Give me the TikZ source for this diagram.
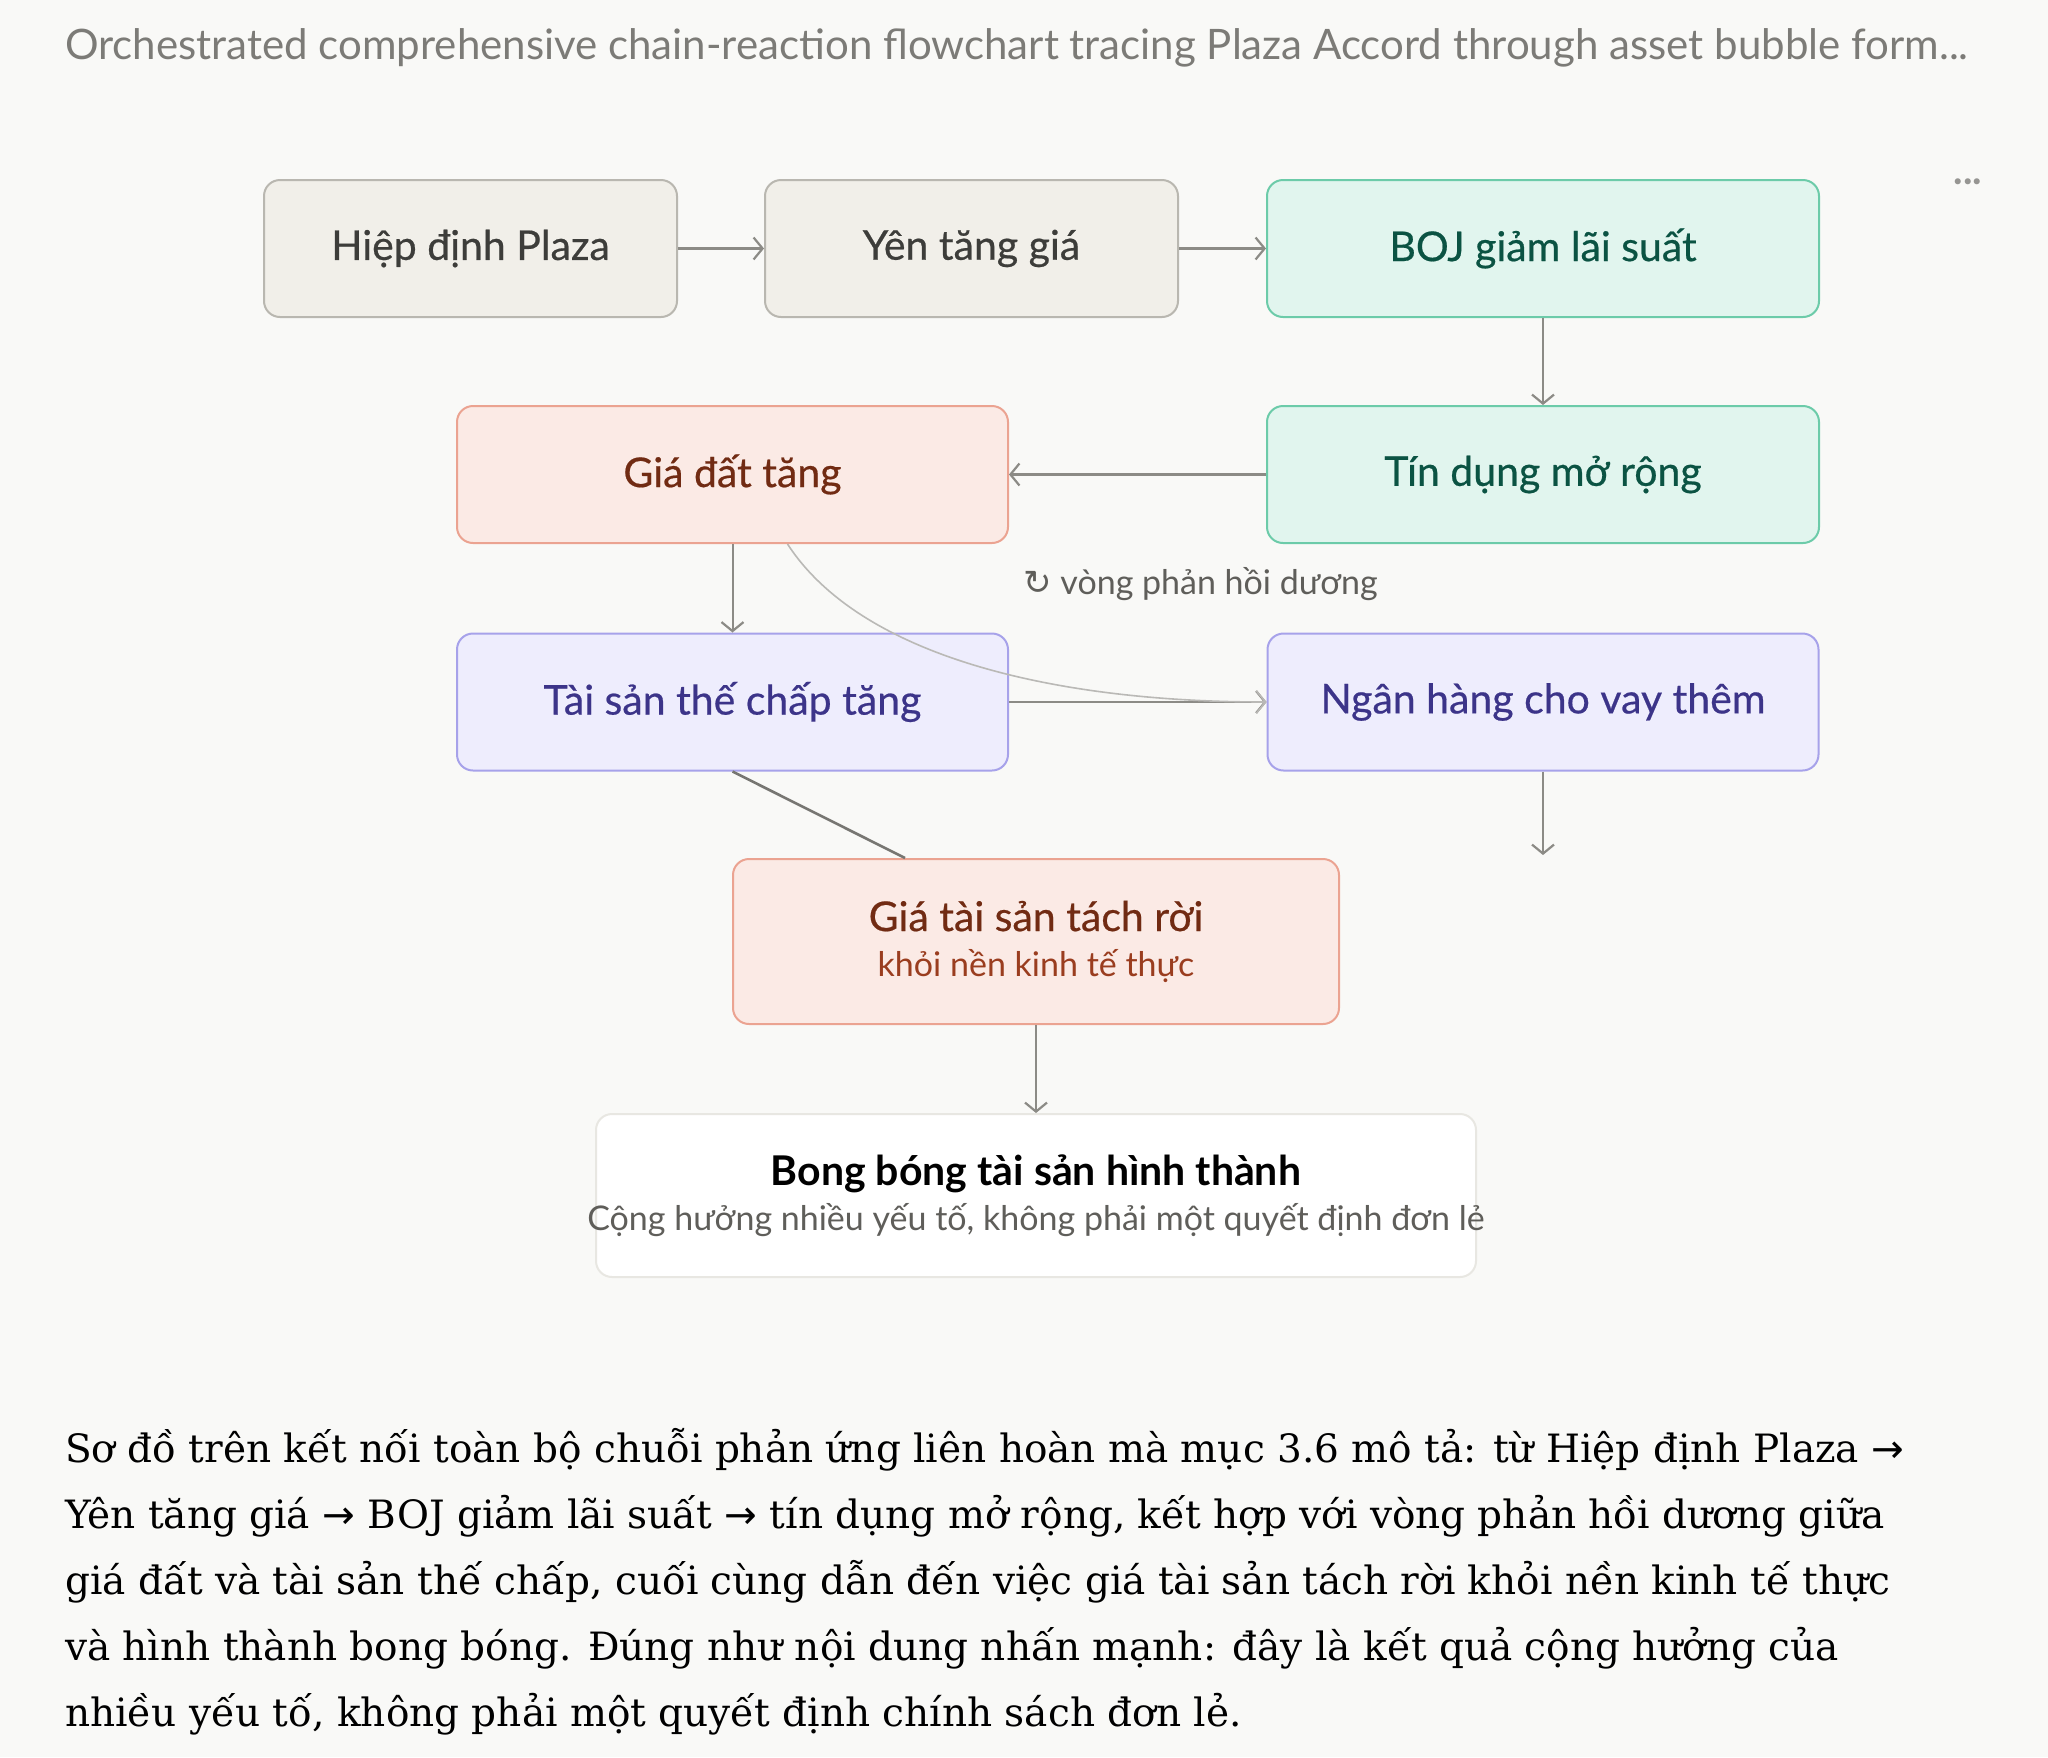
\documentclass[tikz,border=0pt]{standalone}
\usepackage{fontspec}
\setmainfont{Lato}
\newfontfamily\plainfont{Lato}
\newfontfamily\boxfont{Lato}[FakeBold=0.5]
\newfontfamily\bodyserif{DejaVu Serif}
\newfontfamily\symfont{DejaVu Sans}
\usetikzlibrary{arrows.meta,positioning}

\definecolor{pagebg}{HTML}{F9F9F7}
\definecolor{grfill}{HTML}{F1EFE9}
\definecolor{grline}{HTML}{B9B7B0}
\definecolor{grtext}{HTML}{3D3D3A}
\definecolor{gnfill}{HTML}{E1F5EE}
\definecolor{gnline}{HTML}{6CCBA9}
\definecolor{gntext}{HTML}{0B5343}
\definecolor{rdfill}{HTML}{FBEAE5}
\definecolor{rdline}{HTML}{EBA391}
\definecolor{rdtext}{HTML}{712B13}
\definecolor{rdsub}{HTML}{9A3D1F}
\definecolor{pufill}{HTML}{EEEDFD}
\definecolor{puline}{HTML}{A7A2EA}
\definecolor{putext}{HTML}{3C3489}
\definecolor{wtline}{HTML}{E8E7E2}
\definecolor{arrowc}{HTML}{8C8B86}
\definecolor{notec}{HTML}{5F5E5A}
\definecolor{titlec}{HTML}{7C7B77}

\begin{document}
\begin{tikzpicture}[x=1pt,y=-1pt,
 font=\boxfont\fontsize{41}{48}\selectfont,
 box/.style={draw,rounded corners=16pt,line width=2pt,align=center,minimum height=137pt,inner sep=0pt},
 neutral/.style={box,fill=grfill,draw=grline,text=grtext,minimum width=413pt},
 policy/.style={box,fill=gnfill,draw=gnline,text=gntext,minimum width=552pt},
 asset/.style={box,fill=rdfill,draw=rdline,text=rdtext,minimum width=551pt},
 bank/.style={box,fill=pufill,draw=puline,text=putext,minimum width=551pt},
 outcome/.style={box,fill=white,draw=wtline,text=black,minimum width=880pt,minimum height=163pt},
 flow/.style={-{Straight Barb[length=9pt,width=22pt,line width=2.2pt]},line width=2.6pt,draw=arrowc},
 loop/.style={-{Straight Barb[length=9pt,width=22pt,line width=1.6pt]},line width=1.6pt,draw=arrowc!60},
 note/.style={font=\plainfont\fontsize{34}{40}\selectfont,text=notec,inner sep=0pt},
 para/.style={font=\bodyserif\fontsize{39}{66}\selectfont,text=black,anchor=base west,inner sep=0pt}
]
\useasboundingbox (0,0) rectangle (2048,1757);
\fill[pagebg] (0,0) rectangle (2048,1757);

\node[font=\plainfont\fontsize{42}{48}\selectfont,text=titlec,anchor=west,inner sep=0pt] (title) at (65,48) {Orchestrated comprehensive chain-reaction flowchart tracing Plaza Accord through asset bubble form...};
\node[font=\plainfont\fontsize{40}{40}\selectfont\bfseries,text=titlec!80] (more) at (1968,182) {...};

% chain
\node[neutral] (plaza) at (470.5,248.5) {Hiệp định Plaza};
\node[neutral] (yen) at (971.5,248.5) {Yên tăng giá};
\node[policy] (boj) at (1543,248.5) {BOJ giảm lãi suất};
\node[policy] (credit) at (1543,474.5) {Tín dụng mở rộng};
\node[asset] (land) at (732.5,474.5) {Giá đất tăng};
\node[bank] (collat) at (732.5,702) {Tài sản thế chấp tăng};
\node[bank] (lend) at (1543,702) {Ngân hàng cho vay thêm};
\node[asset,minimum width=606pt,minimum height=165pt] (detach) at (1036,941.5) {Giá tài sản tách rời\\[-3pt]{\color{rdsub}\plainfont\fontsize{34}{38}\selectfont khỏi nền kinh tế thực}};
\node[outcome] (bubble) at (1036,1195.5) {{\plainfont\bfseries Bong bóng tài sản hình thành}\\[-3pt]\makebox[820pt][c]{\color{notec}\plainfont\fontsize{34}{38}\selectfont Cộng hưởng nhiều yếu tố, không phải một quyết định đơn lẻ}};

\node[note,anchor=west] (loopnote) at (1023,584) {{\symfont ↻} vòng phản hồi dương};

\coordinate (loopstart) at ([xshift=55pt]land.south);
\coordinate (lendout) at (1543,855);
\coordinate (detachin) at (905,858);

\draw[flow] (plaza) -- (yen);
\draw[flow] (yen) -- (boj);
\draw[flow,line width=2pt] (boj) -- (credit);
\draw[flow] (credit) -- (land);
\draw[flow,line width=2pt] (land) -- (collat);
\draw[flow] (collat) -- (lend);
\draw[loop] (loopstart) .. controls +(72,111) and +(-217,0) .. (lend.west);
\draw[flow,line width=2pt] (lend) -- (lendout);
\draw[line width=2.6pt,draw=arrowc!85!black] (collat.south) -- (detachin);
\draw[flow,line width=2pt] (detach) -- (bubble);

% text below
\node[para] (p1) at (65,1462) {Sơ đồ trên kết nối toàn bộ chuỗi phản ứng liên hoàn mà mục 3.6 mô tả: từ Hiệp định Plaza {\symfont →}};
\node[para] (p2) at (65,1528) {Yên tăng giá {\symfont →} BOJ giảm lãi suất {\symfont →} tín dụng mở rộng, kết hợp với vòng phản hồi dương giữa};
\node[para] (p3) at (65,1594) {giá đất và tài sản thế chấp, cuối cùng dẫn đến việc giá tài sản tách rời khỏi nền kinh tế thực};
\node[para] (p4) at (65,1660) {và hình thành bong bóng. Đúng như nội dung nhấn mạnh: đây là kết quả cộng hưởng của};
\node[para] (p5) at (65,1726) {nhiều yếu tố, không phải một quyết định chính sách đơn lẻ.};
\end{tikzpicture}
\end{document}
